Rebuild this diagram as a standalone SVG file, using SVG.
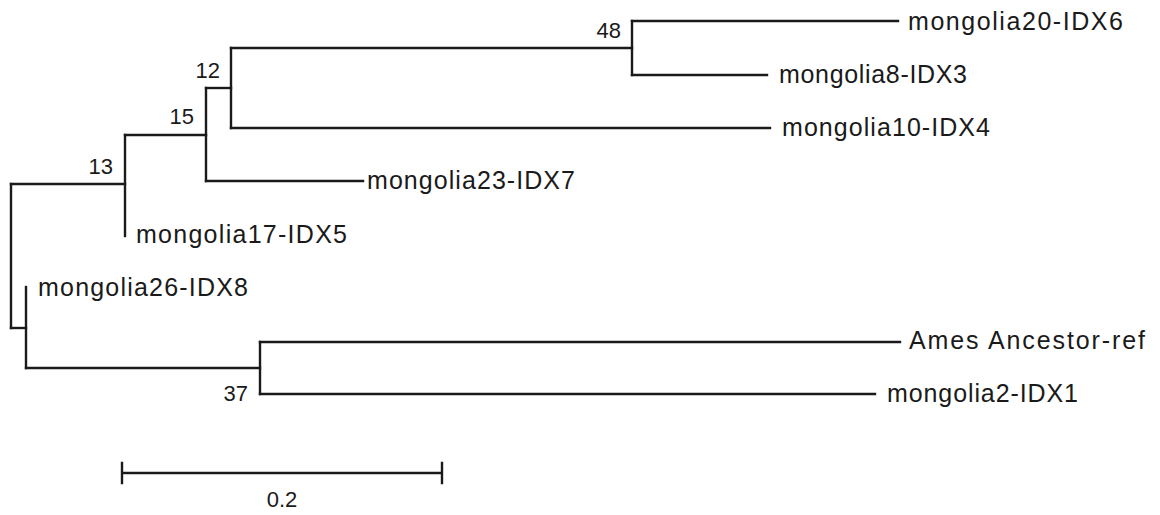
<svg xmlns="http://www.w3.org/2000/svg" width="1160" height="515" viewBox="0 0 1160 515">
  <style>
    .branch { fill: none; stroke: #1a1a1a; stroke-width: 2.4; stroke-linecap: square; }
    .leaf { font-family: "Liberation Sans", Arial, sans-serif; font-size: 25px; fill: #1a1a1a; }
    .boot { font-family: "Liberation Sans", Arial, sans-serif; font-size: 22px; fill: #1a1a1a; text-anchor: end; }
    .scale { font-family: "Liberation Sans", Arial, sans-serif; font-size: 22px; fill: #1a1a1a; text-anchor: middle; }
  </style>
  <rect width="1160" height="515" fill="#ffffff"/>

  <!-- tree branches -->
  <g id="connectors" class="branch">
    <!-- root -->
    <path d="M11,184 V328"/>
    <path d="M11,184 H125"/>
    <path d="M11,328 H26"/>
    <!-- node 13 -->
    <path d="M125,135 V236"/>
    <path d="M125,135 H206"/>
    <!-- node 15 -->
    <path d="M206,88 V181"/>
    <path d="M206,181 H363"/>
    <path d="M206,88 H231"/>
    <!-- node 12 -->
    <path d="M231,48 V128"/>
    <path d="M231,128 H770"/>
    <path d="M231,48 H632"/>
    <!-- node 48 -->
    <path d="M632,21 V75"/>
    <path d="M632,21 H898"/>
    <path d="M632,75 H767"/>
    <!-- mongolia26 / outgroup clade -->
    <path d="M26,287 V368"/>
    <path d="M26,368 H260"/>
    <!-- node 37 -->
    <path d="M260,342 V394"/>
    <path d="M260,342 H900"/>
    <path d="M260,394 H875"/>
  </g>

  <!-- taxa -->
  <g id="mongolia20-IDX6"><text class="leaf" x="908" y="30" textLength="215" lengthAdjust="spacing">mongolia20-IDX6</text></g>
  <g id="mongolia8-IDX3"><text class="leaf" x="779" y="83" textLength="188" lengthAdjust="spacing">mongolia8-IDX3</text></g>
  <g id="mongolia10-IDX4"><text class="leaf" x="782" y="136" textLength="208" lengthAdjust="spacing">mongolia10-IDX4</text></g>
  <g id="mongolia23-IDX7"><text class="leaf" x="367" y="189" textLength="208" lengthAdjust="spacing">mongolia23-IDX7</text></g>
  <g id="mongolia17-IDX5"><text class="leaf" x="136" y="243" textLength="211" lengthAdjust="spacing">mongolia17-IDX5</text></g>
  <g id="mongolia26-IDX8"><text class="leaf" x="38" y="296" textLength="210" lengthAdjust="spacing">mongolia26-IDX8</text></g>
  <g id="ames-ancestor-ref"><text class="leaf" x="909" y="349" textLength="236" lengthAdjust="spacing">Ames Ancestor-ref</text></g>
  <g id="mongolia2-IDX1"><text class="leaf" x="887" y="402" textLength="191" lengthAdjust="spacing">mongolia2-IDX1</text></g>

  <!-- bootstrap values -->
  <g id="bootstrap">
    <text class="boot" x="621" y="38">48</text>
    <text class="boot" x="220" y="78">12</text>
    <text class="boot" x="194" y="124">15</text>
    <text class="boot" x="113" y="174">13</text>
    <text class="boot" x="248" y="401">37</text>
  </g>

  <!-- scale bar -->
  <g id="scale-bar">
    <path class="branch" d="M122,473 H442 M122,463 V483 M442,463 V483"/>
    <text class="scale" x="282" y="507">0.2</text>
  </g>
</svg>
